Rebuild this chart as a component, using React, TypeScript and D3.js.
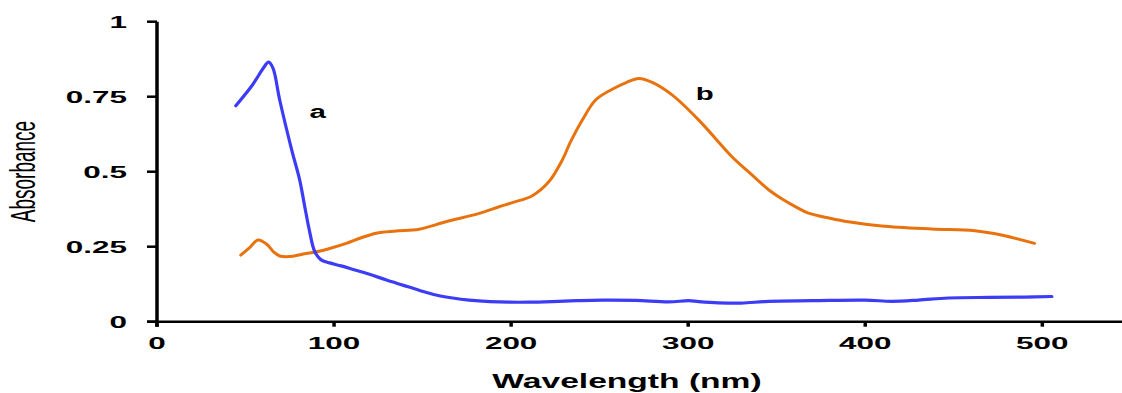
import React from 'react';
import * as d3 from 'd3';

// curve a (blue)
const wavelengthA = [44.5, 54, 60, 63, 65.5, 69.3, 76.1, 80.6, 83.4, 86.2, 89, 92.5, 97.5, 104, 110.4, 120, 129.6, 138.8, 148, 157.6, 167, 176.3, 188, 198.9, 210, 223.3, 237, 251.5, 270.3, 289, 300.3, 306, 317.2, 330, 345.4, 370, 400, 415, 430, 446.8, 470, 490, 505.4];
const absorbanceA = [0.72, 0.79, 0.845, 0.865, 0.845, 0.739, 0.572, 0.472, 0.385, 0.3, 0.235, 0.207, 0.196, 0.186, 0.175, 0.158, 0.139, 0.122, 0.105, 0.089, 0.079, 0.072, 0.067, 0.065, 0.065, 0.067, 0.07, 0.072, 0.071, 0.066, 0.07, 0.067, 0.063, 0.062, 0.068, 0.07, 0.072, 0.068, 0.072, 0.079, 0.081, 0.082, 0.084];

// curve b (orange)
const wavelengthB = [47.3, 52, 57, 62, 66, 69.3, 75, 82, 90, 98, 106.9, 115, 123.8, 135, 148, 163.2, 182, 193.2, 200.7, 212, 221.4, 228.9, 233.6, 240.2, 247.7, 257.1, 265, 272.1, 280, 290.9, 306, 324.7, 334, 340, 345.4, 352.8, 362.3, 367.9, 380, 390.4, 409.2, 437.4, 461.8, 476.8, 495.6];
const absorbanceB = [0.222, 0.245, 0.272, 0.258, 0.232, 0.219, 0.217, 0.225, 0.233, 0.245, 0.261, 0.279, 0.295, 0.302, 0.308, 0.333, 0.361, 0.383, 0.397, 0.42, 0.467, 0.539, 0.6, 0.672, 0.739, 0.775, 0.797, 0.811, 0.797, 0.756, 0.672, 0.55, 0.5, 0.468, 0.44, 0.41, 0.378, 0.362, 0.345, 0.333, 0.319, 0.309, 0.303, 0.289, 0.261];

const xTicks = [0, 100, 200, 300, 400, 500];
const yTicks = [0, 0.25, 0.5, 0.75, 1];
const yTickLabels = ['0', '0.25', '0.5', '0.75', '1'];

const W = 1122;
const H = 393;
const font = '"Liberation Sans", Arial, Helvetica, sans-serif';

const x = d3.scaleLinear().domain([0, 545]).range([157, 1122]);
const y = d3.scaleLinear().domain([0, 1]).range([321.7, 21.7]);

const line = d3.line<[number, number]>()
  .x(d => x(d[0]))
  .y(d => y(d[1]))
  .curve(d3.curveCatmullRom.alpha(0.5));

const seriesA = wavelengthA.map((w, i) => [w, absorbanceA[i]] as [number, number]);
const seriesB = wavelengthB.map((w, i) => [w, absorbanceB[i]] as [number, number]);

export default function App() {
  return (
    <svg width={W} height={H} style={{ position: 'absolute', left: 0, top: 0, background: '#fff' }}>
      <path d={line(seriesB) || ''} fill="none" stroke="#e8720e" strokeWidth={3} strokeLinejoin="round" strokeLinecap="round" />
      <path d={line(seriesA) || ''} fill="none" stroke="#3c3cf6" strokeWidth={3.2} strokeLinejoin="round" strokeLinecap="round" />

      {/* y axis */}
      <line x1={x(0)} x2={x(0)} y1={y(1)} y2={y(0) + 5} stroke="#000" strokeWidth={3.5} />
      {yTicks.map((t, i) => (
        <g key={t}>
          <line x1={x(0) - 10} x2={x(0)} y1={y(t)} y2={y(t)} stroke="#000" strokeWidth={2.5} />
          <text
            transform={`translate(127,${y(t)}) scale(1.85,1)`}
            dy="0.35em"
            textAnchor="end"
            fontFamily={font}
            fontWeight="bold"
            fontSize={17}
          >{yTickLabels[i]}</text>
        </g>
      ))}

      {/* x axis */}
      <line x1={x(0) - 10} x2={W} y1={y(0)} y2={y(0)} stroke="#000" strokeWidth={2.5} />
      {xTicks.map(t => (
        <g key={t}>
          <line x1={x(t)} x2={x(t)} y1={y(0)} y2={y(0) + 5} stroke="#000" strokeWidth={3.5} />
          <text
            transform={`translate(${x(t)},349) scale(1.85,1)`}
            textAnchor="middle"
            fontFamily={font}
            fontWeight="bold"
            fontSize={17}
          >{t}</text>
        </g>
      ))}

      <text
        transform="translate(627,388) scale(1.6,1)"
        textAnchor="middle"
        fontFamily={font}
        fontWeight="bold"
        fontSize={21}
      >Wavelength (nm)</text>

      <text
        transform="translate(35,171.5) rotate(-90) scale(1,1.84)"
        textAnchor="middle"
        fontFamily={font}
        fontSize={19}
      >Absorbance</text>

      <text
        transform={`translate(${x(90.7)},118) scale(1.55,1)`}
        textAnchor="middle"
        fontFamily={font}
        fontWeight="bold"
        fontSize={19}
      >a</text>
      <text
        transform={`translate(${x(309.3)},100) scale(1.55,1)`}
        textAnchor="middle"
        fontFamily={font}
        fontWeight="bold"
        fontSize={19}
      >b</text>
    </svg>
  );
}
